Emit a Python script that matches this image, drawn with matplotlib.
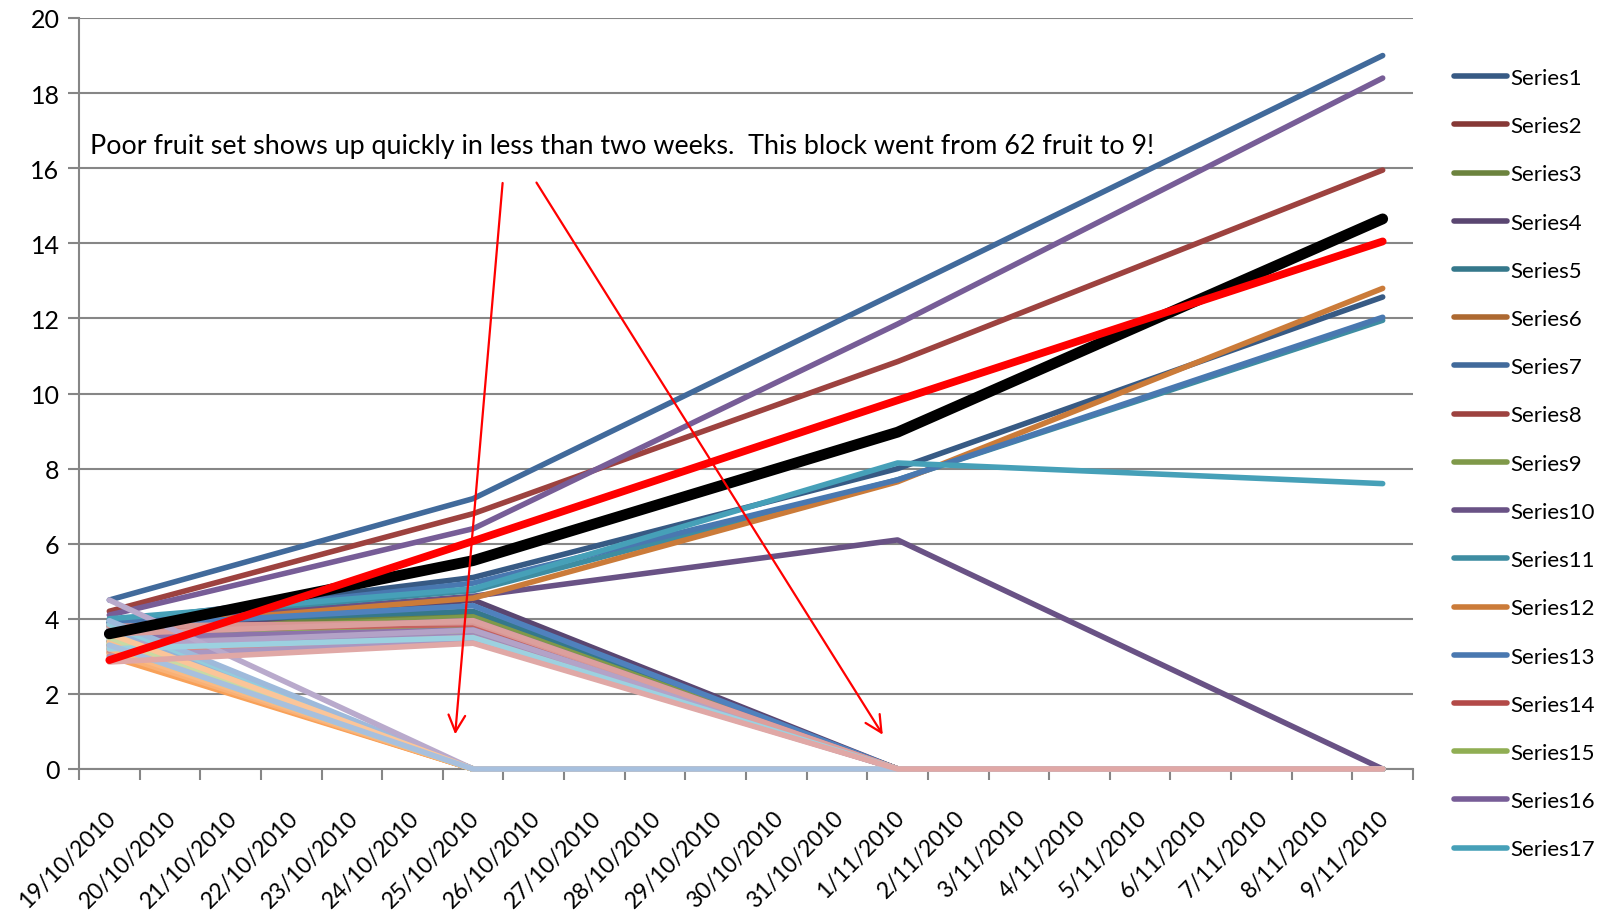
import matplotlib.pyplot as plt
import matplotlib.colors as mcolors
import matplotlib.transforms as mtransforms
import numpy as np

plt.rcParams['font.family'] = ['Lato', 'DejaVu Sans']

dates = ['19/10/2010', '20/10/2010', '21/10/2010', '22/10/2010', '23/10/2010',
         '24/10/2010', '25/10/2010', '26/10/2010', '27/10/2010', '28/10/2010',
         '29/10/2010', '30/10/2010', '31/10/2010', '1/11/2010', '2/11/2010',
         '3/11/2010', '4/11/2010', '5/11/2010', '6/11/2010', '7/11/2010',
         '8/11/2010', '9/11/2010']
# days on which fruit were measured (index into dates)
sample_days = [0, 6, 13, 21]

# fruit size per series (Series1..Series62) on each sample day
v_19oct = [3.9, 3.7, 3.8, 3.6, 3.9, 3.5, 4.5, 4.2, 3.6, 3.85,
           3.95, 3.75, 3.9, 3.4, 3.5, 4.1, 4.0, 3.1, 3.8, 3.3,
           3.4, 3.6, 3.2, 3.05, 3.3, 3.7, 3.3, 3.5, 3.4, 3.0,
           3.5, 3.2, 3.35, 3.4, 3.6, 3.15, 3.7, 3.1, 3.25, 3.25,
           3.45, 3.1, 3.55, 3.15, 3.35, 3.0, 3.65, 3.2, 3.75, 3.8,
           3.3, 3.3, 3.85, 3.4, 3.95, 3.6, 3.5, 4.5, 3.2, 3.6,
           3.3, 2.85]
v_25oct = [5.1, 4.0, 4.1, 4.5, 4.2, 3.9, 7.2, 6.8, 4.05, 4.6,
           4.75, 4.55, 4.95, 3.8, 3.75, 6.4, 4.8, 0, 4.35, 3.7,
           3.65, 3.95, 0, 0, 0, 3.85, 3.6, 3.7, 0, 0,
           0, 3.55, 3.6, 3.5, 0, 0, 0, 3.45, 0, 3.55,
           0, 0, 0, 3.5, 0, 3.4, 0, 0, 0, 3.9,
           0, 3.7, 0, 0, 0, 3.95, 0, 0, 3.5, 0,
           0, 3.35]
v_01nov = [8.0, 0, 0, 0, 0, 0, 12.7, 10.85, 0, 6.1,
           7.7, 7.65, 7.7, 0, 0, 11.85, 8.15] + [0] * 45
v_09nov = [12.57, 0, 0, 0, 0, 0, 19.0, 15.95, 0, 0,
           11.95, 12.8, 12.03, 0, 0, 18.4, 7.6] + [0] * 45

avg_line = [3.6, 5.55, 8.97, 14.65]
target_line = [2.9, 6.07, 9.82, 14.05]

note = 'Poor fruit set shows up quickly in less than two weeks.  This block went from 62 fruit to 9!'

# Office 2007 style palette: six hues, dark -> light over the groups
accents = ['#4F81BD', '#C0504D', '#9BBB59', '#8064A2', '#4BACC6', '#F79646']
levels = [0.7, 0.82, 0.93, 1.0, -0.1, -0.18, -0.26, -0.33, -0.4, -0.45, -0.5]


def series_color(i):
    base = np.array(mcolors.to_rgb(accents[i % 6]))
    f = levels[i // 6]
    if f > 0:
        return tuple(base * f)
    return tuple(base + (1 - base) * (-f))


fig = plt.figure(figsize=(16.12, 9.12), dpi=100)
ax = fig.add_axes([79 / 1612, 142 / 912, 1334 / 1612, 751 / 912])

vals = np.array([v_19oct, v_25oct, v_01nov, v_09nov])
lines = []
for i in range(vals.shape[1]):
    ln, = ax.plot(sample_days, vals[:, i], color=series_color(i), lw=4.0,
                  solid_capstyle='round', solid_joinstyle='round',
                  label='Series%d' % (i + 1), zorder=3, clip_on=False)
    lines.append(ln)
ax.plot(sample_days, avg_line, color='black', lw=7.8, solid_capstyle='round', zorder=4)
ax.plot(sample_days, target_line, color='#FF0000', lw=5.6, solid_capstyle='round', zorder=5)

ax.text(-0.32, 16.6, note, fontsize=19.4, va='center', ha='left', zorder=6)
arrow = dict(arrowstyle='->', color='#FF0000', lw=1.6, mutation_scale=30)
ax.annotate('', xy=(5.7, 0.85), xytext=(6.49, 15.68), arrowprops=arrow, zorder=6)
ax.annotate('', xy=(12.78, 0.85), xytext=(7.02, 15.68), arrowprops=arrow, zorder=6)

grey = '#868686'
ax.set_xlim(-0.5, len(dates) - 0.5)
ax.set_ylim(0, 20)
ax.set_yticks(range(0, 21, 2))
ax.set_xticks(np.arange(-0.5, len(dates), 1.0))
ax.set_xticklabels([])
ax.set_xticks(range(len(dates)), minor=True)
ax.set_xticklabels(dates, minor=True, rotation=45, ha='right', rotation_mode='anchor')
ax.tick_params(axis='x', which='major', length=8, width=1.5, color=grey)
ax.tick_params(axis='x', which='minor', length=0, pad=27, labelsize=16.5)
ax.tick_params(axis='y', length=8, width=1.5, color=grey, labelsize=18, pad=6)
shift = mtransforms.ScaledTranslation(-3 / 72, 0, fig.dpi_scale_trans)
for lbl in ax.get_xticklabels(minor=True):
    lbl.set_transform(lbl.get_transform() + shift)
ax.grid(axis='y', color=grey, lw=1.5)
ax.set_axisbelow(True)
for s in ['top', 'right']:
    ax.spines[s].set_visible(False)
for s in ['left', 'bottom']:
    ax.spines[s].set_color(grey)
    ax.spines[s].set_linewidth(1.5)

fig.legend(handles=lines[:17], loc='upper left', bbox_to_anchor=(1445 / 1612, 1 - 60 / 912),
           frameon=False, fontsize=16, handlelength=2.4, handletextpad=0.12,
           labelspacing=1.27, borderaxespad=0)

fig.savefig('out.png', dpi=100)
